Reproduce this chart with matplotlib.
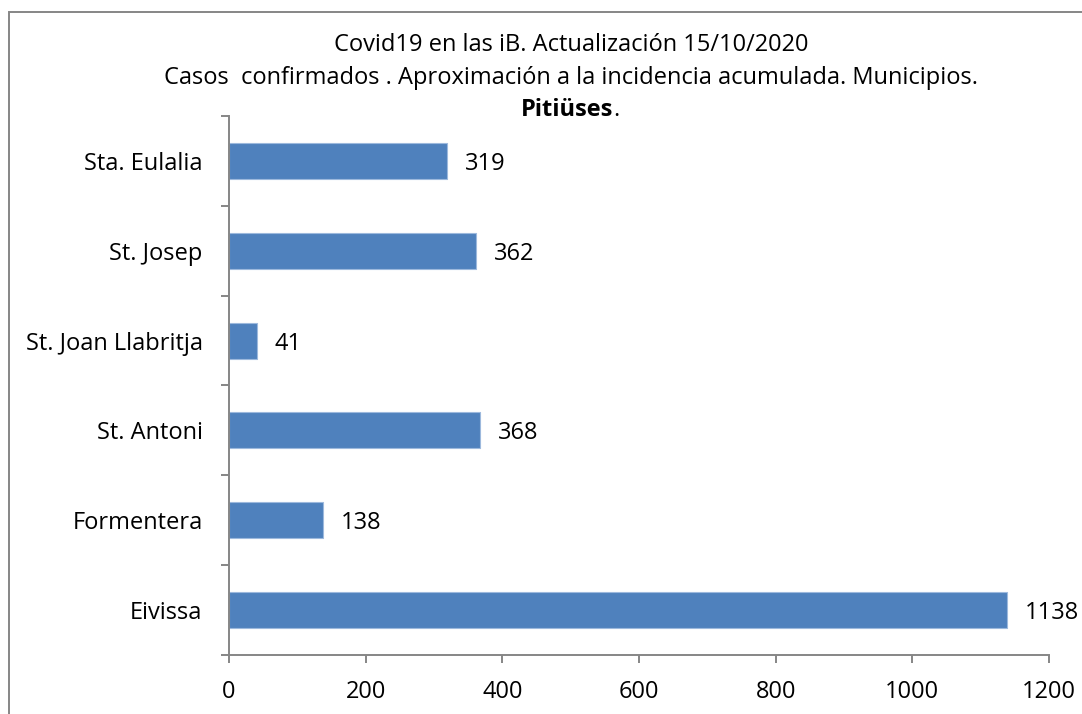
import matplotlib.pyplot as plt
from matplotlib.patches import Rectangle

plt.rcParams['font.family'] = ['Open Sans', 'DejaVu Sans']

municipios = ["Eivissa", "Formentera", "St. Antoni", "St. Joan Llabritja", "St. Josep", "Sta. Eulalia"]
casos = [1138, 138, 368, 41, 362, 319]
xticks = [0, 200, 400, 600, 800, 1000, 1200]

FS = 17

fig = plt.figure(figsize=(10.82, 7.14), dpi=100)
ax = fig.add_axes([229 / 1082, 1 - 655 / 714, 820 / 1082, 539 / 714])

pos = list(range(len(municipios)))
ax.barh(pos, casos, height=0.4, color="#4F81BD", edgecolor="#9DB9DD", linewidth=0.8)

for y, v in zip(pos, casos):
    ax.text(v + 26, y, str(v), va="center_baseline", ha="left", fontsize=FS)

ax.set_xlim(0, 1200)
ax.set_ylim(-0.5, len(municipios) - 0.5)
ax.set_xticks(xticks)
ax.set_xticklabels([str(t) for t in xticks], fontsize=FS)

# ticks between categories, labels at centers
ax.set_yticks([p - 0.5 for p in pos] + [len(pos) - 0.5])
ax.set_yticklabels([])
ax.set_yticks(pos, minor=True)
ax.set_yticklabels(municipios, minor=True, fontsize=FS)
ax.tick_params(axis="y", which="minor", length=0, pad=19)
ax.tick_params(axis="y", which="major", length=6, width=1.4, color="#868686")
ax.tick_params(axis="x", length=6, width=1.4, color="#868686", pad=12)

for s in ["top", "right"]:
    ax.spines[s].set_visible(False)
for s in ["left", "bottom"]:
    ax.spines[s].set_color("#868686")
    ax.spines[s].set_linewidth(1.4)

# titulo
cx = 571 / 1082
fig.text(cx, 1 - 45 / 714, "Covid19 en las iB. Actualización 15/10/2020", ha="center", va="center", fontsize=FS)
fig.text(cx, 1 - 78 / 714, "Casos  confirmados . Aproximación a la incidencia acumulada. Municipios.",
         ha="center", va="center", fontsize=FS)
t_b = fig.text(cx - 4 / 1082, 1 - 110 / 714, "Pitiüses", ha="center", va="center", fontsize=FS, fontweight="bold")
fig.canvas.draw()
bb = t_b.get_window_extent()
fig.text(bb.x1 / 1082, 1 - 110 / 714, ".", ha="left", va="center", fontsize=FS)

# marco del grafico
fig.patches.append(Rectangle((9 / 1082, -0.1), 1.2, 1 - 12 / 714 + 0.1, transform=fig.transFigure,
                             fill=False, edgecolor="#868686", linewidth=1.4))

fig.savefig("out.png", dpi=100)
